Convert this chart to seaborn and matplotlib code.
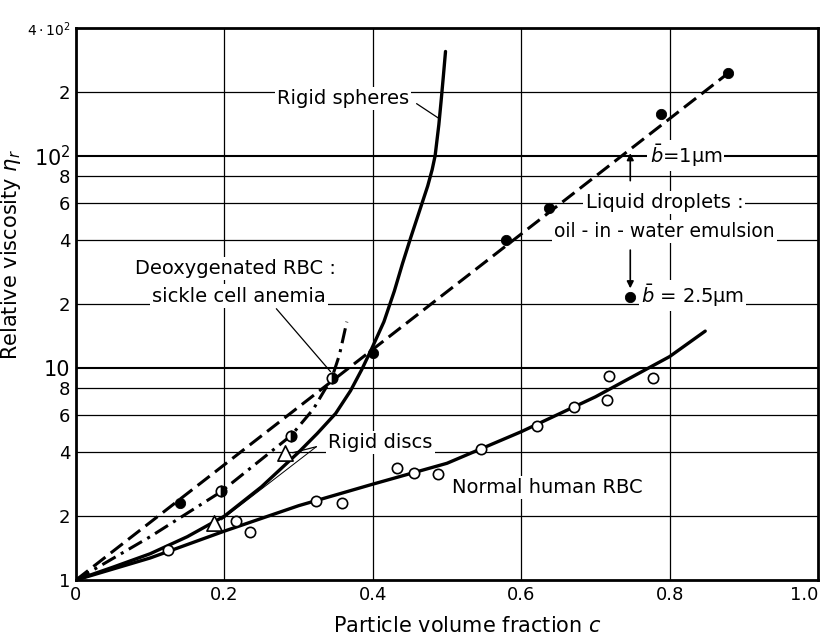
import matplotlib
matplotlib.use("Agg")
import matplotlib.pyplot as plt
import seaborn as sns

# Normal human RBC: fitted curve and open-circle data
rbc_curve_c = [0, 0.1, 0.2, 0.3, 0.4, 0.5, 0.6, 0.7, 0.8, 0.848]
rbc_curve_eta = [1, 1.27, 1.70, 2.24, 2.83, 3.55, 5.0, 7.3, 11.3, 14.9]
rbc_c = [0.124, 0.216, 0.234, 0.323, 0.358, 0.433, 0.456, 0.488, 0.546, 0.621, 0.671, 0.715, 0.719, 0.777]
rbc_eta = [1.38, 1.89, 1.68, 2.37, 2.31, 3.36, 3.18, 3.15, 4.16, 5.34, 6.51, 7.08, 9.19, 8.99]

# Rigid spheres curve
sph_c = [0, 0.05, 0.1, 0.15, 0.2, 0.25, 0.3, 0.325, 0.35, 0.37, 0.385, 0.398, 0.415,
         0.429, 0.44, 0.451, 0.463, 0.474, 0.48, 0.484, 0.489, 0.492, 0.495, 0.498]
sph_eta = [1, 1.15, 1.33, 1.6, 2.0, 2.75, 4.0, 4.9, 6.1, 7.8, 9.8, 12.2, 16.5,
           23, 31, 41, 55, 72, 86, 100, 140, 180, 235, 310]

# Liquid droplets (oil-in-water emulsion)
drop_line_c = [0, 0.879]
drop_line_eta = [1, 245]
drop_c = [0.14, 0.40, 0.58, 0.637, 0.789, 0.879]
drop_eta = [2.3, 11.8, 40, 57, 157, 245]
drop25_c = [0.747]
drop25_eta = [21.5]

# Deoxygenated RBC, sickle cell anemia
sick_curve_c = [0, 0.1, 0.195, 0.29, 0.32, 0.345, 0.355, 0.365]
sick_curve_eta = [1, 1.6, 2.6, 4.8, 6.4, 9.0, 11.5, 16.5]
sick_c = [0.195, 0.29, 0.345]
sick_eta = [2.62, 4.79, 9.0]

# Rigid discs
disc_c = [0.186, 0.282]
disc_eta = [1.86, 3.95]

grid_eta = [2, 4, 6, 8, 10, 20, 40, 60, 80, 100, 200]
grid_c = [0.2, 0.4, 0.6, 0.8]
ytick_vals = [1, 2, 4, 6, 8, 10, 20, 40, 60, 80, 100, 200, 400]
ytick_text = ["1", "2", "4", "6", "8", "10", "2", "4", "6", "8", "$10^2$", "2", r"$4\cdot10^2$"]
xtick_vals = [0, 0.2, 0.4, 0.6, 0.8, 1.0]
xtick_text = ["0", "0.2", "0.4", "0.6", "0.8", "1.0"]

sns.set_style("white")
plt.rcParams["font.family"] = ["DejaVu Sans"]
plt.rcParams["mathtext.fontset"] = "dejavusans"
for key in ("text.color", "axes.labelcolor", "xtick.color", "ytick.color"):
    plt.rcParams[key] = "black"

fig = plt.figure(figsize=(8.29, 6.39), dpi=100)
ax = fig.add_axes([76 / 829, 59 / 639, 742 / 829, 552 / 639])
ax.set_yscale("log")
ax.set_xlim(0, 1.0)
ax.set_ylim(1, 400)

for v in grid_eta:
    ax.axhline(v, color="black", lw=1.5 if v in (10, 100) else 0.9, zorder=1)
for v in grid_c:
    ax.axvline(v, color="black", lw=0.9, zorder=1)

k = dict(color="black", estimator=None, legend=False, zorder=4)
sns.lineplot(x=rbc_curve_c, y=rbc_curve_eta, ax=ax, lw=2.4, **k)
sns.lineplot(x=sph_c, y=sph_eta, ax=ax, lw=2.4, **k)
sns.lineplot(x=drop_line_c, y=drop_line_eta, ax=ax, lw=2.2, linestyle=(0, (5, 2.2)), **k)
sns.lineplot(x=sick_curve_c, y=sick_curve_eta, ax=ax, lw=2.2, linestyle=(0, (5, 2, 1, 2)), **k)

sns.scatterplot(x=rbc_c, y=rbc_eta, ax=ax, s=55, facecolor="white", edgecolor="black",
                linewidth=1.2, zorder=5)
sns.scatterplot(x=drop_c + drop25_c, y=drop_eta + drop25_eta, ax=ax, s=55, color="black",
                edgecolor="black", zorder=5)
ax.plot(sick_c, sick_eta, "o", ms=7.5, mfc="black", mfcalt="white", fillstyle="right",
        mec="black", mew=1.2, zorder=5)
sns.scatterplot(x=disc_c, y=disc_eta, ax=ax, s=120, marker="^", facecolor="white",
                edgecolor="black", linewidth=1.2, zorder=6)

box = dict(facecolor="white", edgecolor="none", pad=1.5)
fs = 14
ax.text(0.36, 186, "Rigid spheres", ha="center", va="center", fontsize=fs, bbox=box, zorder=3)
ax.plot([0.459, 0.489], [176, 150], color="black", lw=0.9, zorder=3)
ax.text(0.215, 29.5, "Deoxygenated RBC :", ha="center", va="center", fontsize=fs, bbox=box, zorder=3)
ax.text(0.22, 21.8, "sickle cell anemia", ha="center", va="center", fontsize=fs, bbox=box, zorder=3)
ax.plot([0.27, 0.343], [19.0, 9.6], color="black", lw=0.9, zorder=3)
ax.text(0.41, 4.45, "Rigid discs", ha="center", va="center", fontsize=fs, bbox=box, zorder=3)
ax.plot([0.324, 0.292], [4.25, 3.98], color="black", lw=0.9, zorder=3)
ax.plot([0.324, 0.196], [4.25, 1.92], color="black", lw=0.7, zorder=3)
ax.text(0.635, 2.72, "Normal human RBC", ha="center", va="center", fontsize=fs, bbox=box, zorder=3)
ax.text(0.793, 60, "Liquid droplets :", ha="center", va="center", fontsize=fs, bbox=box, zorder=3)
ax.text(0.793, 44, "oil - in - water emulsion", ha="center", va="center", fontsize=13.5,
        bbox=box, zorder=3)
ax.text(0.822, 100, r"$\bar{b}$=1µm", ha="center", va="center", fontsize=fs, bbox=box, zorder=3)
ax.text(0.831, 22, r"$\bar{b}$ = 2.5µm", ha="center", va="center", fontsize=fs, bbox=box, zorder=3)
ax.annotate("", xy=(0.747, 106), xytext=(0.747, 74),
            arrowprops=dict(arrowstyle="-|>", color="black", lw=1.2), zorder=5)
ax.annotate("", xy=(0.747, 23), xytext=(0.747, 37),
            arrowprops=dict(arrowstyle="-|>", color="black", lw=1.2), zorder=5)

ax.set_yticks(ytick_vals, ytick_text)
ax.set_xticks(xtick_vals, xtick_text)
ax.minorticks_off()
ax.tick_params(length=0, labelsize=13, pad=4)
for lbl in ax.get_yticklabels():
    if lbl.get_text() in ("10", "$10^2$"):
        lbl.set_fontsize(15)
    if lbl.get_text() == r"$4\cdot10^2$":
        lbl.set_fontsize(10)
ax.get_xticklabels()[-1].set_horizontalalignment("right")

for sp in ax.spines.values():
    sp.set_color("black")
    sp.set_linewidth(2)

ax.set_xlabel("Particle volume fraction $c$", fontsize=15)
ax.set_ylabel(r"Relative viscosity $\eta_r$", fontsize=15)
ax.xaxis.set_label_coords(0.528, -0.065)
ax.yaxis.set_label_coords(-0.071, 0.589)

fig.savefig("out.png", dpi=100)
